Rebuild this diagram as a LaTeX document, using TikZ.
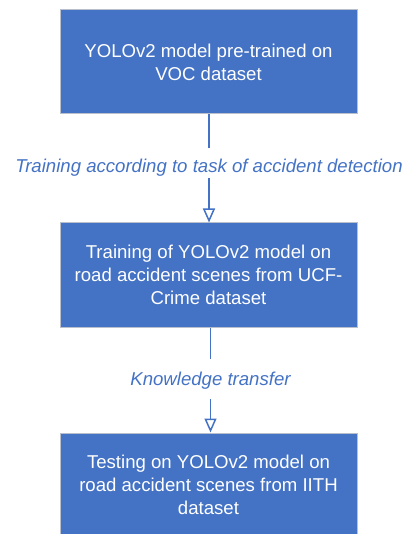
\documentclass[tikz,border=0pt]{standalone}
\usepackage{fontspec}
\setmainfont{Liberation Sans}
\usetikzlibrary{arrows.meta}
\definecolor{boxblue}{HTML}{4472C4}
\definecolor{boxedge}{RGB}{185,192,204}
\begin{document}
\begin{tikzpicture}[x=1pt,y=-1pt,
  stagebox/.style={rectangle, fill=boxblue, draw=boxedge, line width=1pt,
    minimum width=297pt, minimum height=104pt, inner sep=0pt,
    text=white, align=center,
    font=\fontsize{18.6}{23}\selectfont},
  flowlabel/.style={inner sep=0pt, text=boxblue, anchor=base,
    font=\fontsize{18.6}{23}\selectfont\itshape},
  flow/.style={draw=boxblue, line width=1.8pt},
  tipped/.style={flow, -{Triangle[open, length=14pt, width=12pt, line width=1.5pt]}}]
  \useasboundingbox (0,0) rectangle (410,534);

  % the three stages of the pipeline
  \node[stagebox] (pre) at (208.5,62)
    {YOLOv2 model pre-trained on\\VOC dataset};
  \node[stagebox] (train) at (208.5,275)
    {Training of YOLOv2 model on\\road accident scenes from UCF-\\Crime dataset};
  \node[stagebox] (test) at (208.5,485)
    {Testing on YOLOv2 model on\\road accident scenes from IITH\\dataset};

  % labels that interrupt the connectors
  \node[flowlabel, text height=25pt, text depth=5pt] (task) at (209,173)
    {Training according to task of accident detection};
  \node[flowlabel, text height=26pt, text depth=14pt] (transfer) at (210.5,385)
    {Knowledge transfer};

  % connectors
  \draw[flow] (task.north |- pre.south) -- (task.north);
  \draw[tipped] (task.south) -- (task.south |- train.north);
  \draw[flow] (transfer.north |- train.south) -- (transfer.north);
  \draw[tipped] (transfer.south) -- (transfer.south |- test.north);
\end{tikzpicture}
\end{document}
